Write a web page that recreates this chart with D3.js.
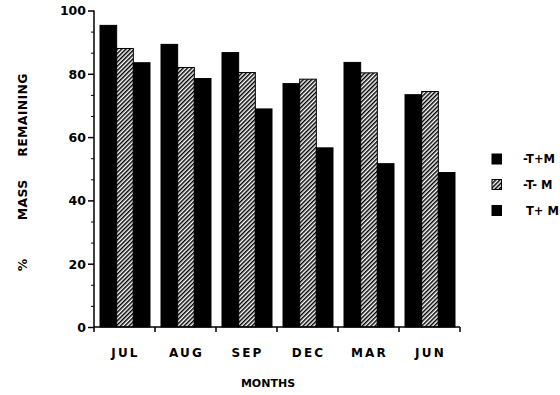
<!DOCTYPE html>
<html><head><meta charset="utf-8">
<script src="https://cdn.jsdelivr.net/npm/d3@7"></script>
<style>body{margin:0;background:#fff}svg{display:block}text{font-family:"DejaVu Sans","Liberation Sans",Arial,sans-serif;font-weight:bold;fill:#000}</style>
</head><body><svg id="c" width="560" height="395"></svg>
<script>
const months = ["JUL","AUG","SEP","DEC","MAR","JUN"];
const seriesNames = ["-T+M","-T- M","T+ M"];
const tPlusM_minus = [95.3, 89.3, 86.7, 76.9, 83.6, 73.4]; // -T+M
const tMinusM = [88.0, 82.0, 80.4, 78.3, 80.3, 74.4];     // -T- M
const tPlusM = [83.5, 78.5, 68.9, 56.6, 51.6, 48.8];      // T+ M
const yTicks = [0,20,40,60,80,100];
const yTitleWords = ["%","MASS","REMAINING"];
const seriesValues = [tPlusM_minus, tMinusM, tPlusM];

const svg = d3.select("#c");
const defs = svg.append("defs");
const pat = defs.append("pattern").attr("id","hatch").attr("patternUnits","userSpaceOnUse")
  .attr("width",3).attr("height",3).attr("patternTransform","rotate(45)");
pat.append("rect").attr("width",3).attr("height",3).attr("fill","#fff");
pat.append("rect").attr("width",1.5).attr("height",3).attr("fill","#000");

const fills = ["#000","url(#hatch)","#000"];
const L=94, R=460, T=10.5, B=327;
const x0 = d3.scaleBand().domain(months).range([L,R]).padding(0);
const x1 = d3.scaleBand().domain(seriesNames).range([6, x0.bandwidth()-5]).padding(0);
const y = d3.scaleLinear().domain([0,100]).range([B,T]);

// bars
months.forEach((m,i)=>{
  seriesNames.forEach((s,j)=>{
    const v = seriesValues[j][i];
    svg.append("rect").attr("x",x0(m)+x1(s)).attr("y",y(v))
      .attr("width",x1.bandwidth()).attr("height",B-y(v))
      .attr("fill",fills[j]).attr("stroke","#000").attr("stroke-width",1);
  });
});

// y axis
const yAxis = d3.axisLeft(y).tickValues(yTicks).tickSize(6).tickPadding(2);
const ga = svg.append("g").attr("transform",`translate(${L},0)`).call(yAxis);
ga.select(".domain").attr("stroke-width",1.5).attr("d",`M0,${T}V${B}`);
ga.selectAll(".tick line").attr("stroke-width",1.5);
ga.selectAll(".tick text").style("font-size","12.5px").attr("dy","0.35em")
  .style("font-family","'DejaVu Sans',sans-serif");
const minor = [];
for(let k=0;k<5;k++){ minor.push(k*20+20/3, k*20+40/3); }
const yMinor = d3.axisLeft(y).tickValues(minor).tickSize(3).tickFormat("");
const gm = svg.append("g").attr("transform",`translate(${L},0)`).call(yMinor);
gm.select(".domain").remove();
gm.selectAll(".tick line").attr("stroke-width",1);

// x axis
const xAxis = d3.axisBottom(x0).tickSize(0).tickPadding(21);
const gx = svg.append("g").attr("transform",`translate(0,${B})`).call(xAxis);
gx.select(".domain").attr("stroke-width",1.5).attr("d",`M${L},0H${R}`);
gx.selectAll(".tick text").style("font-size","12px").style("letter-spacing","2.2px")
  .attr("dx","1px").style("font-family","'DejaVu Sans',sans-serif");
const bounds = months.map(m=>x0(m)).concat([R]);
bounds.forEach(b=>{
  gx.append("line").attr("x1",b).attr("x2",b).attr("y1",0).attr("y2",5).attr("stroke","#000").attr("stroke-width",1.5);
});

// axis titles
svg.append("text").attr("x",268).attr("y",387).attr("text-anchor","middle")
  .style("font-size","11px").text("MONTHS");
const yTitle = svg.append("text").attr("transform","translate(27,0) rotate(-90)")
  .attr("text-anchor","middle").style("font-size","12.5px").style("letter-spacing","0.3px");
const wordCenters = [262.5, 197.5, 115];
yTitleWords.forEach((w,k)=>{
  yTitle.append("tspan").attr("x",-wordCenters[k]).attr("y",0).text(w + (k<2?" ":""));
});

// legend
const legY = [154, 179.5, 205.5];
const legX = [523, 523, 526];
seriesNames.forEach((s,j)=>{
  svg.append("rect").attr("x",492).attr("y",legY[j]).attr("width",9.5).attr("height",10)
    .attr("fill",fills[j]).attr("stroke","#000").attr("stroke-width",1);
  svg.append("text").attr("x",legX[j]).attr("y",legY[j]+5).attr("dy","0.35em")
    .style("font-size","11.5px").text(s);
});
</script></body></html>
